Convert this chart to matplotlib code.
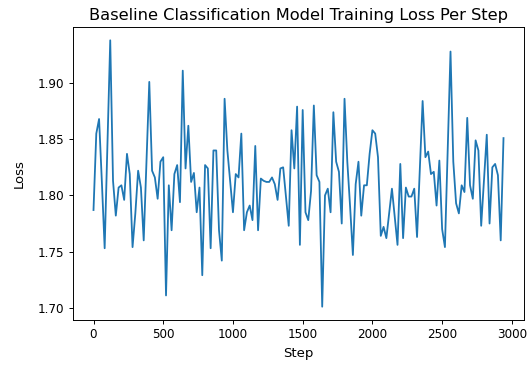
import matplotlib
matplotlib.use('Agg')
import matplotlib.pyplot as plt

# training loss logged every 20 steps
steps = list(range(0, 2960, 20))
loss = [
    1.787, 1.855, 1.868, 1.812, 1.753, 1.845, 1.938, 1.813, 1.782, 1.807,
    1.809, 1.796, 1.837, 1.819, 1.754, 1.784, 1.822, 1.807, 1.760, 1.831,
    1.901, 1.822, 1.816, 1.797, 1.830, 1.834, 1.711, 1.809, 1.769, 1.819,
    1.827, 1.794, 1.911, 1.824, 1.862, 1.812, 1.820, 1.785, 1.807, 1.729,
    1.827, 1.824, 1.753, 1.840, 1.840, 1.769, 1.742, 1.886, 1.840, 1.812,
    1.785, 1.819, 1.816, 1.855, 1.769, 1.785, 1.791, 1.778, 1.844, 1.769,
    1.815, 1.813, 1.812, 1.812, 1.816, 1.810, 1.796, 1.824, 1.825, 1.799,
    1.773, 1.858, 1.824, 1.879, 1.756, 1.876, 1.785, 1.778, 1.804, 1.880,
    1.818, 1.812, 1.701, 1.800, 1.806, 1.785, 1.874, 1.830, 1.821, 1.775,
    1.886, 1.830, 1.790, 1.747, 1.810, 1.830, 1.782, 1.809, 1.809, 1.837,
    1.858, 1.855, 1.834, 1.764, 1.772, 1.762, 1.784, 1.806, 1.781, 1.756,
    1.828, 1.762, 1.807, 1.799, 1.799, 1.806, 1.763, 1.824, 1.884, 1.834,
    1.839, 1.819, 1.821, 1.791, 1.831, 1.770, 1.754, 1.841, 1.928, 1.830,
    1.793, 1.784, 1.809, 1.803, 1.869, 1.809, 1.797, 1.849, 1.840, 1.773,
    1.813, 1.854, 1.775, 1.825, 1.828, 1.818, 1.760, 1.851,
]

dpi = 86.4
fig = plt.figure(figsize=(530/dpi, 365/dpi), dpi=dpi)
ax = fig.add_axes([73/530, 45/365, 451/530, 293/365])
ax.plot(steps, loss, color='tab:blue', linewidth=1.5)
ax.set_title('Baseline Classification Model Training Loss Per Step', fontsize=13.6)
ax.set_xlabel('Step', fontsize=11, labelpad=5)
ax.set_ylabel('Loss', fontsize=11, labelpad=10)
ax.set_yticks([1.70, 1.75, 1.80, 1.85, 1.90])
ax.set_xticks([0, 500, 1000, 1500, 2000, 2500, 3000])
fig.savefig('out.png', dpi=dpi)
